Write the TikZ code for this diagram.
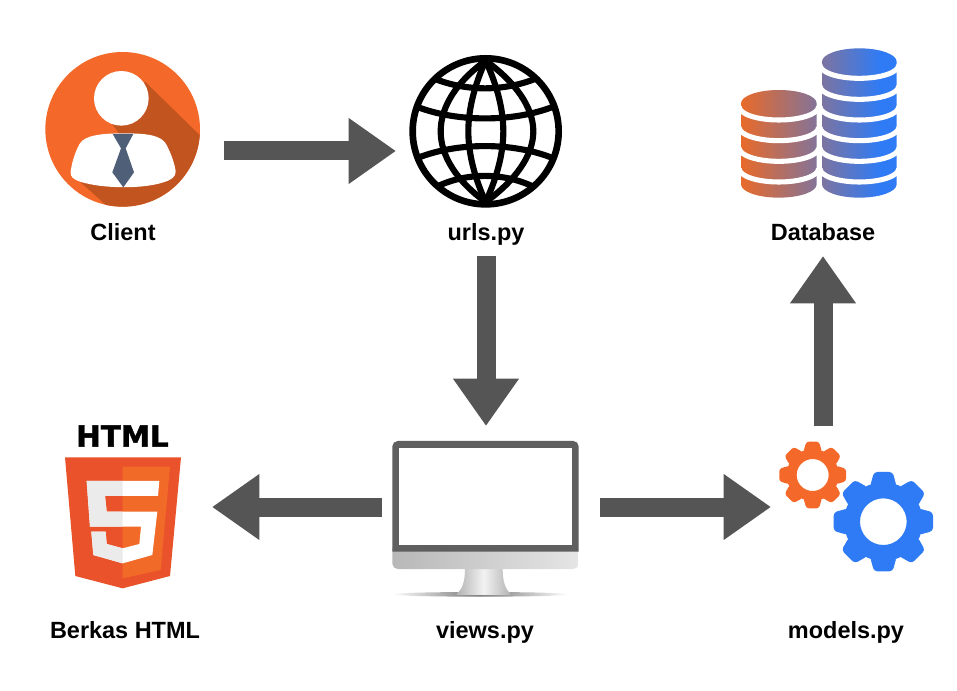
\documentclass[tikz,border=0pt]{standalone}
\usepackage{fontspec}
\setmainfont{Liberation Sans}
\newfontfamily\htmlfont[BoldFeatures={FakeBold=1.5}]{DejaVu Sans}
\usetikzlibrary{arrows.meta}
\definecolor{arrowgrey}{HTML}{555555}
\definecolor{ora}{HTML}{F4692A}
\definecolor{orashadow}{HTML}{C1541F}
\definecolor{tiecol}{HTML}{4F5F78}
\definecolor{blu}{HTML}{2F7BF5}
\definecolor{dbora}{HTML}{E86A2A}
\definecolor{shield}{HTML}{E9522A}
\definecolor{shieldlight}{HTML}{F26A28}
\definecolor{framecol}{HTML}{5F5F5F}
\tikzset{
  iconbox/.style 2 args={minimum width=#1*0.75pt,minimum height=#2*0.75pt,inner sep=0pt,outer sep=0pt},
  caption/.style={font=\fontsize{17.6}{22}\selectfont\bfseries,text=black,inner sep=0pt,anchor=base},
  blockarrow/.style={draw=arrowgrey,line width=14.25pt,-{Triangle[length=35.5pt,width=47pt]}},
  zoomed/.style 2 args={shift={(#1,#2)},x=0.25pt,y=-0.25pt},
  globeline/.style={draw=black,line width=4.6pt}
}
\begin{document}
\begin{tikzpicture}[x=0.75pt,y=-0.75pt]
\useasboundingbox (0,0) rectangle (957,691);
\fill[white] (0,0) rectangle (957,691);
% client icon
\begin{scope}[zoomed={30}{40}]
  \fill[ora] (278,268) circle (232);
  \begin{scope}
    \clip (278,268) circle (232);
    \fill[orashadow] (345,125) -- (560,335) -- (560,560) -- (300,560) -- (150,425) -- (270,285) -- (245,250) -- cycle;
  \end{scope}
  \fill[white] (274,175) circle (82);
  \fill[white] (280,280) .. controls (350,280) and (395,285) .. (410,315)
    .. controls (425,345) and (435,375) .. (437,395)
    .. controls (437,410) and (425,420) .. (400,427)
    .. controls (340,447) and (220,447) .. (150,425)
    .. controls (130,418) and (120,410) .. (122,395)
    .. controls (125,370) and (135,335) .. (150,310)
    .. controls (165,285) and (220,280) .. (280,280) -- cycle;
  \fill[tiecol] (248,282) -- (310,282) -- (287,325) -- (312,397) -- (280,442) -- (247,397) -- (273,325) -- cycle;
\end{scope}
% globe icon
\begin{scope}[zoomed={400}{50}]
  \begin{scope}
    \clip (257,244) circle (225);
    \foreach \r/\c/\d in {205/228/205, 122/170/122, 310/286/310, 400/344/400} {
      \draw[globeline] (257,32) .. controls (\c,95) and (\d,170) .. (\r,244) .. controls (\d,318) and (\c,393) .. (257,456);
    }
    \draw[globeline] (100,85) .. controls (200,125) and (310,125) .. (410,85);
    \draw[globeline] (50,170) .. controls (170,217) and (340,217) .. (460,170);
    \draw[globeline] (50,325) .. controls (170,276) and (340,276) .. (460,325);
    \draw[globeline] (110,410) .. controls (200,367) and (310,367) .. (400,410);
  \end{scope}
  \draw[draw=black,line width=5pt] (257,244) circle (219);
\end{scope}
% database icon
\begin{scope}[zoomed={730}{40}]
  \begin{scope}
    \clip (33,190) arc (180:360:113.5 and 40) -- (260.0,433) arc (0:180:113.5 and 40) -- cycle
          (276,65) arc (180:360:112 and 40) -- (500,433) arc (0:180:112 and 40) -- cycle;
    \shade[left color=dbora,right color=blu] (33,0) rectangle (450,500);
    \fill[blu] (449,0) rectangle (510,500);
  \end{scope}
  \foreach \m in {115,178,240,302,364,426} {
    \draw[white,line width=3.8pt] (270,\m-40) arc (180:0:118 and 40);
  }
  \foreach \m in {240,302,364,426} {
    \draw[white,line width=3.8pt] (27.5,\m-40) arc (180:0:119 and 40);
  }
\end{scope}
% html icon
\node[font=\htmlfont\bfseries\fontsize{22}{24}\selectfont,text=black,inner sep=0pt] (htmltitle) at (122.5,436) {HTML};
\begin{scope}[zoomed={50}{415}]
  \fill[shield] (45,127) -- (393,127) -- (360,483) -- (218,520) -- (76,483) -- cycle;
  \fill[shieldlight] (218,155) -- (360,155) -- (332,465) -- (218,490) -- cycle;
  \fill[white] (110,198) -- (328,198) -- (324,243) -- (165,243) -- (170,290) -- (322,290) -- (307,420) -- (218,445) -- (130,420) -- (124,350) -- (167,350) -- (170,387) -- (218,400) -- (268,387) -- (273,335) -- (120,335) -- cycle;
  \begin{scope}
    \clip (0,0) rectangle (218,600);
    \fill[black!8] (110,198) -- (328,198) -- (324,243) -- (165,243) -- (170,290) -- (322,290) -- (307,420) -- (218,445) -- (130,420) -- (124,350) -- (167,350) -- (170,387) -- (218,400) -- (268,387) -- (273,335) -- (120,335) -- cycle;
  \end{scope}
\end{scope}
% monitor icon
\begin{scope}[zoomed={380}{430}]
  \shade[left color=white,right color=white,middle color=black!55] (300,493) ellipse (265 and 7);
  \shade[left color=black!30,right color=black!30,middle color=black!5]
    (255,417) -- (368,417) .. controls (368,450) and (375,480) .. (392,490) -- (392,495) -- (230,495) -- (230,490) .. controls (248,480) and (255,450) .. (255,417) -- cycle;
  \shade[left color=black!28,right color=black!10,rounded corners=4pt] (37,340) rectangle (596,417);
  \fill[framecol] (37,365) [rounded corners=4pt] -- (37,33) -- (596,33) [sharp corners] -- (596,365) -- cycle;
  \fill[white] (57,53) rectangle (576,345);
\end{scope}
% gears icon
\begin{scope}[zoomed={770}{430}]
  \foreach \a in {0,45,...,315} {
    \fill[ora,rotate around={\a:(128,135)},rounded corners=2pt] (100,66) -- (109,35) -- (147,35) -- (156,66) -- cycle;
    \fill[blu,rotate around={\a:(340,275)},rounded corners=2.5pt] (300,170) -- (312,126) -- (368,126) -- (380,170) -- cycle;
  }
  \fill[ora,even odd rule] (128,135) circle (78) (128,135) circle (48);
  \fill[blu,even odd rule] (340,275) circle (118) (340,275) circle (70);
\end{scope}
% anchor boxes
\node[iconbox={155}{155}] (client) at (123,130) {};
\node[iconbox={155}{155}] (urls) at (486,131) {};
\node[iconbox={156}{150}] (database) at (819,123) {};
\node[iconbox={116}{131}] (html) at (123,523) {};
\node[iconbox={186}{155}] (views) at (485,520) {};
\node[iconbox={155}{132}] (models) at (856,506) {};
% labels
\node[caption] (lclient) at (123,241) {Client};
\node[caption] (lurls) at (486,241) {urls.py};
\node[caption] (ldb) at (823,241) {Database};
\node[caption] (lhtml) at (125,638) {Berkas HTML};
\node[caption] (lviews) at (485,638) {views.py};
\node[caption] (lmodels) at (846,638) {models.py};
% connectors
\draw[blockarrow] ([shift={(23.5,21)}]client.east) -- ([shift={(-12.5,20)}]urls.west);
\draw[blockarrow] ([shift={(0,47.5)}]urls.south) -- ([shift={(1,-16.5)}]views.north);
\draw[blockarrow] ([shift={(-10,-13)}]views.west) -- ([shift={(31,-16)}]html.east);
\draw[blockarrow] ([shift={(22,-13)}]views.east) -- ([shift={(-7.5,1)}]models.west);
\draw[blockarrow] ([shift={(-33,-14)}]models.north) -- ([shift={(4,58)}]database.south);
\end{tikzpicture}
\end{document}
